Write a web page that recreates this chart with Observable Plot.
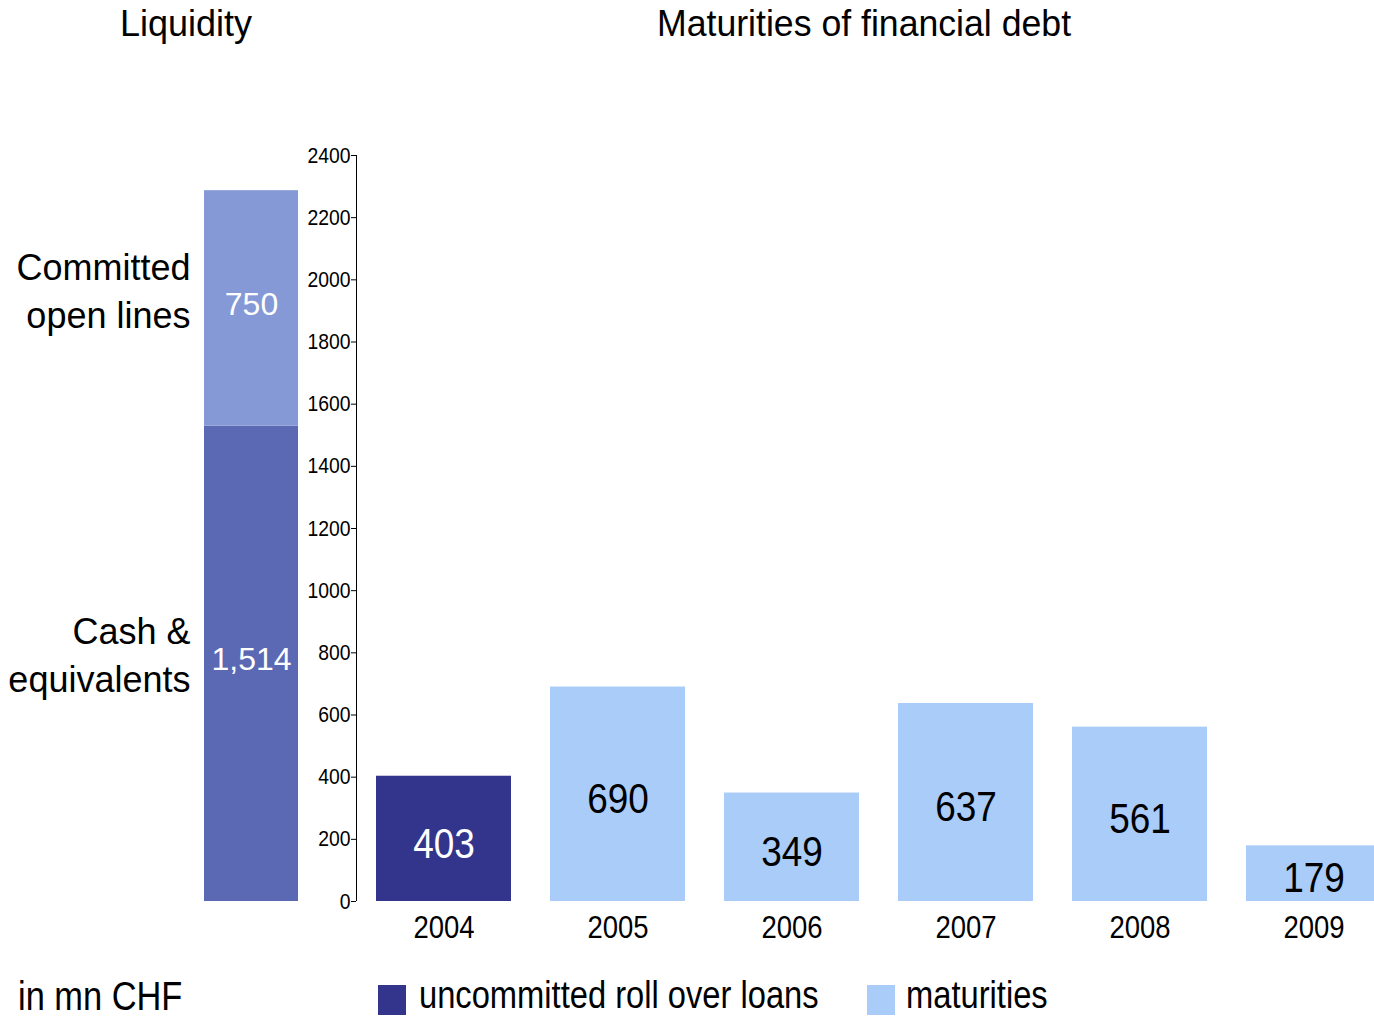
<!DOCTYPE html>
<html><head><meta charset="utf-8">
<script src="https://cdn.jsdelivr.net/npm/d3@7"></script>
<script src="https://cdn.jsdelivr.net/npm/@observablehq/plot@0.6"></script>
<style>
body{margin:0;background:#fff;font-family:"Liberation Sans",Arial,sans-serif;color:#000;}
#wrap{position:relative;width:1374px;height:1018px;overflow:hidden;background:#fff;}
.abs{position:absolute;white-space:nowrap;}
.sq{display:inline-block;transform-origin:0 50%;}
.sw{position:absolute;width:28px;height:30px;}
</style></head><body><div id="wrap">
<div class="abs" style="left:120px;top:0;font-size:36px;line-height:48px;"><span class="sq">Liquidity</span></div>
<div class="abs" style="left:657px;top:0;font-size:36px;line-height:48px;"><span class="sq" style="transform:scaleX(0.99)">Maturities of financial debt</span></div>
<div id="left" class="abs" style="left:0;top:100px;width:300px;height:850px;"></div>
<div id="right" class="abs" style="left:300px;top:100px;width:1074px;height:850px;"></div>
<div class="abs" style="left:18px;top:974px;font-size:40px;line-height:44px;"><span class="sq" style="transform:scaleX(0.86)">in mn CHF</span></div>
<div class="sw" style="left:378px;top:985px;background:#33358C;"></div>
<div class="abs" style="left:419px;top:973px;font-size:38px;line-height:44px;"><span class="sq" style="transform:scaleX(0.86)">uncommitted roll over loans</span></div>
<div class="sw" style="left:867px;top:985px;background:#AACCF8;"></div>
<div class="abs" style="left:906px;top:973px;font-size:38px;line-height:44px;"><span class="sq" style="transform:scaleX(0.86)">maturities</span></div>
</div>
<script>
// ---- data ----
const liquidityParts = ["Cash & equivalents", "Committed open lines"];
const liquidityLabels = ["Cash &\nequivalents", "Committed\nopen lines"];
const liquidityValues = [1514, 750];
const liquidityText = ["1,514", "750"];
const years = ["2004", "2005", "2006", "2007", "2008", "2009"];
const debtValues = [403, 690, 349, 637, 561, 179];
const debtTypes = ["uncommitted roll over loans", "maturities", "maturities", "maturities", "maturities", "maturities"];
const yTicks = [0, 200, 400, 600, 800, 1000, 1200, 1400, 1600, 1800, 2000, 2200, 2400];

const FONT = '"Liberation Sans",Arial,sans-serif';

// condense SVG texts horizontally around their anchor point
function squeeze(svg, selector, sx) {
  svg.querySelectorAll(selector).forEach(t => {
    const tr = t.getAttribute("transform") || "";
    t.setAttribute("transform", (tr + ` scale(${sx},1)`).trim());
  });
}

let cum = 0;
const liq = liquidityParts.map((p, i) => {
  const mid = cum + liquidityValues[i] / 2;
  cum += liquidityValues[i];
  return {group: "Liquidity", part: p, label: liquidityLabels[i], value: liquidityValues[i], text: liquidityText[i], mid};
});
const debt = years.map((y, i) => ({year: y, value: debtValues[i], type: debtTypes[i]}));

const left = Plot.plot({
  width: 300, height: 850,
  marginTop: 55, marginBottom: 49, marginLeft: 190, marginRight: 2,
  style: {fontFamily: FONT, maxWidth: "none", background: "transparent", overflow: "visible"},
  x: {domain: ["Liquidity"], range: [204, 298], padding: 0, axis: null},
  y: {domain: [0, 2376], axis: null},
  color: {domain: liquidityParts, range: ["#5B68B4", "#8599D6"]},
  marks: [
    Plot.barY(liq, Plot.stackY({x: "group", y: "value", fill: "part"})),
    Plot.text(liq, {x: "group", y: "mid", text: "text", fill: "white", fontSize: 32, dy: -4, ariaLabel: "liq-value"}),
    Plot.text(liq, {filter: d => d.part === liquidityParts[0], y: "mid", text: "label", frameAnchor: "left", textAnchor: "end", fontSize: 36, lineHeight: 1.34, dy: -11, ariaLabel: "liq-label"}),
    Plot.text(liq, {filter: d => d.part === liquidityParts[1], y: "mid", text: "label", frameAnchor: "left", textAnchor: "end", fontSize: 36, lineHeight: 1.34, dy: -20, ariaLabel: "liq-label"})
  ]
});
squeeze(left, 'g[aria-label="liq-value"] text', 0.88);
squeeze(left, 'g[aria-label="liq-label"] text', 0.97);
document.getElementById("left").appendChild(left);

const ML = 56, MT = 55, MB = 49, H = 850;
const right = Plot.plot({
  width: 1074, height: H,
  marginTop: MT, marginBottom: MB, marginLeft: ML, marginRight: 0,
  style: {fontFamily: FONT, maxWidth: "none", background: "transparent"},
  x: {domain: years, range: [55, 1101], paddingInner: 0.225, paddingOuter: 0.115, label: null},
  y: {domain: [0, 2400], label: null},
  color: {domain: ["uncommitted roll over loans", "maturities"], range: ["#33358C", "#AACCF8"]},
  marks: [
    Plot.barY(debt, {x: "year", y: "value", fill: "type"}),
    Plot.text(debt, {filter: d => d.type !== "maturities", x: "year", y: d => d.value / 2, text: d => String(d.value), fill: "white", fontSize: 43, dy: 5, ariaLabel: "bar-value"}),
    Plot.text(debt, {filter: d => d.type === "maturities", x: "year", y: d => d.value / 2, text: d => String(d.value), fill: "black", fontSize: 43, dy: 5, ariaLabel: "bar-value"}),
    Plot.axisY(yTicks, {tickSize: 5, tickPadding: 1, fontSize: 22, tickFormat: d => String(d), label: null}),
    Plot.axisX({tickSize: 0, tickPadding: 14, fontSize: 32, label: null})
  ]
});
squeeze(right, 'g[aria-label="bar-value"] text', 0.8);
right.querySelectorAll("g[aria-label] text").forEach(t => {
  const lab = t.closest("g[aria-label]").getAttribute("aria-label");
  if (lab === "bar-value") return;
  const sx = lab.startsWith("y-axis") ? 0.88 : 0.86;
  t.setAttribute("transform", ((t.getAttribute("transform") || "") + ` scale(${sx},1)`).trim());
});
d3.select(right).append("line")
  .attr("x1", ML + 0.5).attr("x2", ML + 0.5)
  .attr("y1", MT).attr("y2", H - MB)
  .attr("stroke", "black").attr("stroke-width", 1);
document.getElementById("right").appendChild(right);
</script>
</body></html>
